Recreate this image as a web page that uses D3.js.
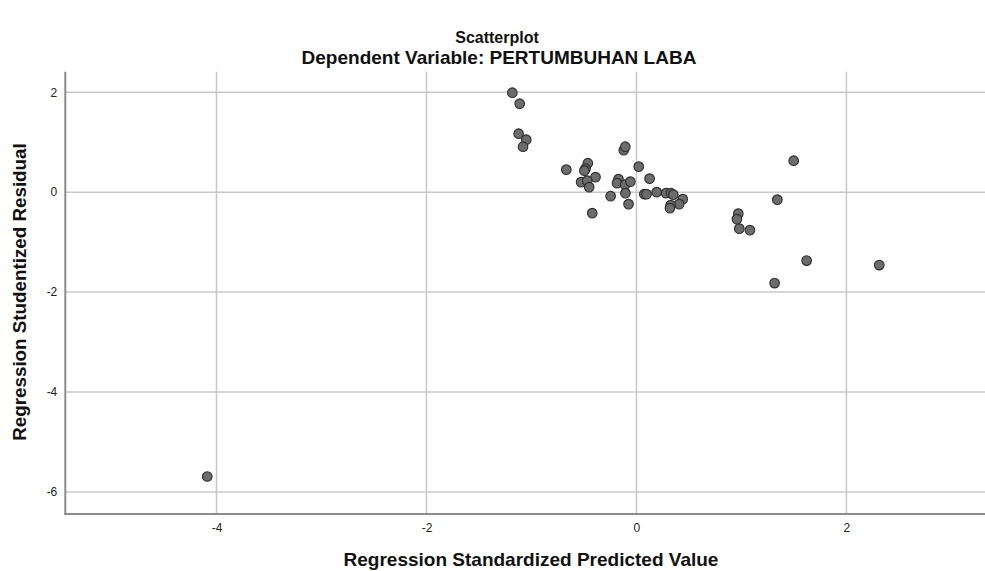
<!DOCTYPE html>
<html>
<head>
<meta charset="utf-8">
<script src="https://cdn.jsdelivr.net/npm/d3@7"></script>
<style>
  html, body { margin: 0; padding: 0; background: #ffffff; }
  svg { display: block; font-family: "Liberation Sans", Arial, sans-serif; }
</style>
</head>
<body>
<svg id="chart" width="985" height="571"></svg>
<script>
// ---- data ----
const predicted = [
  -1.182, -1.112, -1.122, -1.049, -1.080, -0.668, -0.463, -0.485, -0.496, -0.390,
  -0.527, -0.469, -0.450, -0.421, -0.246, -0.171, -0.185, -0.108, -0.058, -0.105,
  -0.075, -0.121, -0.106, 0.022, 0.125, 0.075, 0.096, 0.193, 0.282, 0.329,
  0.351, 0.441, 0.407, 0.326, 0.319, 1.498, 1.342, 0.970, 0.957, 0.980,
  1.081, 1.621, 2.313, 1.316, -4.088
];
const residual = [
  1.99, 1.77, 1.17, 1.05, 0.91, 0.45, 0.58, 0.47, 0.43, 0.30,
  0.20, 0.23, 0.10, -0.42, -0.08, 0.26, 0.18, 0.15, 0.21, -0.02,
  -0.24, 0.84, 0.91, 0.51, 0.27, -0.04, -0.04, 0.00, -0.02, -0.02,
  -0.05, -0.14, -0.24, -0.26, -0.32, 0.63, -0.15, -0.43, -0.54, -0.73,
  -0.76, -1.37, -1.46, -1.82, -5.69
];
const xTicks = [-4, -2, 0, 2];
const yTicks = [2, 0, -2, -4, -6];
const xDomain = [-5.44, 3.32];
const yDomain = [-6.44, 2.41];
const titleText = "Scatterplot";
const subtitleText = "Dependent Variable: PERTUMBUHAN LABA";
const xLabel = "Regression Standardized Predicted Value";
const yLabel = "Regression Studentized Residual";

// ---- layout ----
const svg = d3.select("#chart");
const mLeft = 65.3, mRight = 985, mTop = 71.7, mBottom = 514;

const x = d3.scaleLinear().domain(xDomain).range([mLeft, mRight]);
const y = d3.scaleLinear().domain(yDomain).range([mBottom, mTop]);

// grid lines
const grid = svg.append("g");
grid.selectAll("line.h").data(yTicks).join("line").attr("class", "h")
  .attr("x1", mLeft).attr("x2", mRight)
  .attr("y1", d => y(d)).attr("y2", d => y(d))
  .attr("stroke", "#c8c8c8").attr("stroke-width", 1.5);
grid.selectAll("line.v").data(xTicks).join("line").attr("class", "v")
  .attr("y1", mTop).attr("y2", mBottom)
  .attr("x1", d => x(d)).attr("x2", d => x(d))
  .attr("stroke", "#c8c8c8").attr("stroke-width", 1.5);

// axes (labels only, no tick marks)
const fmt = d => String(d);
const xAxis = d3.axisBottom(x).tickValues(xTicks).tickSize(0).tickPadding(9).tickFormat(fmt);
const gx = svg.append("g").attr("transform", `translate(0,${mBottom})`).call(xAxis);
gx.select(".domain").remove();
gx.selectAll("text").attr("font-size", 12).attr("fill", "#222")
  .attr("font-family", "Liberation Sans, Arial, sans-serif");

const yAxis = d3.axisLeft(y).tickValues(yTicks).tickSize(0).tickPadding(8).tickFormat(fmt);
const gy = svg.append("g").attr("transform", `translate(${mLeft},0)`).call(yAxis);
gy.select(".domain").remove();
gy.selectAll("text").attr("font-size", 12).attr("fill", "#222")
  .attr("font-family", "Liberation Sans, Arial, sans-serif");

// frame lines (left and bottom)
svg.append("line").attr("x1", mLeft).attr("x2", mLeft).attr("y1", mTop).attr("y2", mBottom + 1)
  .attr("stroke", "#8c8c8c").attr("stroke-width", 2);
svg.append("line").attr("x1", mLeft - 1).attr("x2", mRight).attr("y1", mBottom).attr("y2", mBottom)
  .attr("stroke", "#8c8c8c").attr("stroke-width", 2);

// points
const pts = predicted.map((p, i) => ({ p, r: residual[i] }));
svg.append("g").selectAll("circle").data(pts).join("circle")
  .attr("cx", d => x(d.p)).attr("cy", d => y(d.r)).attr("r", 4.8)
  .attr("fill", "#6c6c6c").attr("stroke", "#2e2e2e").attr("stroke-width", 1.1);

// titles
svg.append("text").attr("x", 497).attr("y", 43).attr("text-anchor", "middle")
  .attr("font-size", 16).attr("font-weight", "bold").attr("fill", "#111").text(titleText);
svg.append("text").attr("x", 499).attr("y", 64).attr("text-anchor", "middle")
  .attr("font-size", 19).attr("font-weight", "bold").attr("fill", "#111").text(subtitleText);

svg.append("text").attr("x", 531).attr("y", 566).attr("text-anchor", "middle")
  .attr("font-size", 19).attr("font-weight", "bold").attr("fill", "#111").text(xLabel);
svg.append("text").attr("transform", "translate(26,292) rotate(-90)").attr("text-anchor", "middle")
  .attr("font-size", 18.8).attr("font-weight", "bold").attr("fill", "#111").text(yLabel);
</script>
</body>
</html>
